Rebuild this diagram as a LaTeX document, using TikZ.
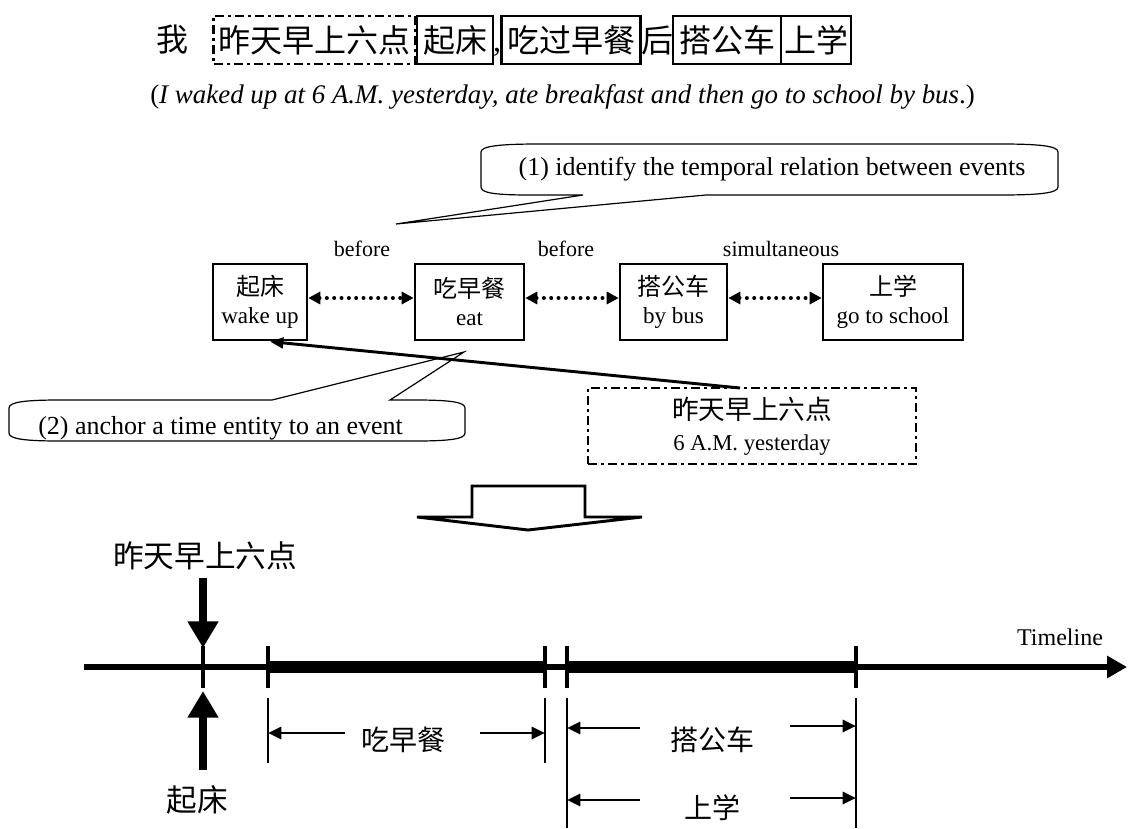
\documentclass[tikz,border=0pt]{standalone}
\usepackage{fontspec}
\setmainfont{Liberation Serif}
\newfontfamily\cjk{Noto Sans CJK SC}
\usetikzlibrary{arrows.meta,calc}
\begin{document}
\begin{tikzpicture}[x=0.75pt,y=-0.75pt,
  topcjk/.style={font=\cjk\fontsize{24}{28}\selectfont, inner sep=0pt},
  topbox/.style={topcjk, draw, line width=2.2pt, minimum height=36pt},
  dashdot/.style={dash pattern=on 7pt off 3pt on 2pt off 3pt},
  evbox/.style={draw, line width=0.9pt, minimum height=57pt, align=center, inner sep=0pt,
     font=\fontsize{17.3}{21}\selectfont},
  rel/.style={font=\fontsize{16.5}{19}\selectfont, inner sep=0pt},
  dotarrow/.style={line width=3pt, dash pattern=on 0pt off 5.5pt, line cap=round,
     {Triangle[length=9pt,width=9pt]}-{Triangle[length=9pt,width=9pt]}, shorten <=0.5pt, shorten >=0.5pt},
  solidarrow/.style={line width=2.2pt, -{Triangle[length=10pt,width=8pt]}},
  callout/.style={line width=0.9pt},
  callouttext/.style={font=\fontsize{19.5}{24}\selectfont, inner sep=0pt},
  tick/.style={line width=3pt},
  thinv/.style={line width=0.9pt},
  dimarrow/.style={line width=2.2pt, -{Triangle[length=10pt,width=9pt]}},
  fatarrow/.style={line width=6.5pt, -{Triangle[length=20pt,width=22pt]}},
  bigcjk/.style={font=\cjk\fontsize{23}{27}\selectfont, inner sep=0pt},
  midcjk/.style={font=\cjk\fontsize{21}{25}\selectfont, inner sep=0pt}
]
\useasboundingbox (0,0) rectangle (1130,828);

% ---- top sentence
\node[topcjk] (wo) at (172,40) {我};
\node[topbox, dashdot, minimum width=151.1pt] (s1) at (314.25,40) {昨天早上六点};
\node[topbox, minimum width=57pt] (s2) at (455,40) {起床};
\node[font=\fontsize{24}{28}\selectfont, inner sep=0pt] (cm) at (497,52) {,};
\node[topbox, minimum width=104pt] (s3) at (571,40) {吃过早餐};
\node[topcjk] (hou) at (657,40) {后};
\node[topbox, minimum width=81pt] (s4) at (727,40) {搭公车};
\node[topbox, minimum width=52.5pt] (s5) at (816,40) {上学};

\node[font=\fontsize{20.2}{24}\selectfont, anchor=west, inner sep=0pt] (eng) at (150,97)
  {(\textit{I waked up at 6 A.M. yesterday, ate breakfast and then go to school by bus}.)};

% ---- callout 1
\draw[callout] (481,152) .. controls (481,146) and (500,144) .. (540,144) -- (1000,144)
  .. controls (1040,144) and (1058,146) .. (1058,152) -- (1058,187)
  .. controls (1058,193) and (1040,195) .. (1000,195) -- (706,195) -- (396,224) -- (583,195)
  -- (530,195) .. controls (495,195) and (481,193) .. (481,187) -- cycle;
\node[callouttext] (c1) at (772,169)
  {(1) identify the temporal relation between events};

% ---- event boxes
\node[evbox, minimum width=70.5pt] (e1) at (260,302) {{\cjk\fontsize{18}{21}\selectfont 起床}\\wake up};
\node[evbox, minimum width=81.75pt] (e2) at (469.5,302) {{\cjk\fontsize{18}{21}\selectfont 吃早餐}\\eat};
\node[evbox, minimum width=80.25pt] (e3) at (673.5,302) {{\cjk\fontsize{18}{21}\selectfont 搭公车}\\by bus};
\node[evbox, minimum width=105pt] (e4) at (893,302) {{\cjk\fontsize{18}{21}\selectfont 上学}\\go to school};

\node[rel] (r1) at (362,249) {before};
\node[rel] (r2) at (566,249) {before};
\node[rel] (r3) at (781,249) {simultaneous};

\draw[dotarrow] ([yshift=3pt]e1.east) -- ([yshift=3pt]e2.west);
\draw[dotarrow] ([yshift=3pt]e2.east) -- ([yshift=3pt]e3.west);
\draw[dotarrow] ([yshift=3pt]e3.east) -- ([yshift=3pt]e4.west);

% ---- time entity box
\node[draw, line width=1.5pt, dashdot, minimum width=246pt, minimum height=57pt,
  align=center, inner sep=0pt, font=\fontsize{17}{23}\selectfont] (tb) at (752,426)
  {{\cjk\fontsize{20}{23}\selectfont 昨天早上六点}\\6 A.M. yesterday};
\coordinate (a0) at (740,388);
\draw[solidarrow] (a0) -- ($(e1.south)+(10,1)$);

% ---- callout 2
\draw[callout] (9,408) .. controls (9,402) and (25,400) .. (60,400) -- (272,400) -- (464,352)
  -- (390,400) -- (415,400) .. controls (450,400) and (465,402) .. (465,408) -- (465,433)
  .. controls (465,439) and (450,441) .. (415,441) -- (60,441)
  .. controls (25,441) and (9,439) .. (9,433) -- cycle;
\node[callouttext, anchor=base west] (c2) at (38,434)
  {(2) anchor a time entity to an event};

% ---- hollow down arrow
\draw[line width=2.2pt, line join=miter] (417,517) -- (472,517) -- (472,486) -- (585,486)
  -- (585,517) -- (642,517) -- (528,530) -- cycle;

% ---- timeline
\coordinate (tl0) at (84,667);
\coordinate (tl1) at (1127,667);
\draw[line width=5pt, -{Triangle[length=15pt,width=16pt]}] (tl0) -- (tl1);
\node[font=\fontsize{18}{22}\selectfont, inner sep=0pt] (tll) at (1060,637) {Timeline};

\coordinate (p0) at (203,667);
\coordinate (p1) at (268,667);
\coordinate (p2) at (545,667);
\coordinate (p3) at (567,667);
\coordinate (p4) at (856,667);
\draw[line width=8.5pt] (p1) -- (p2);
\draw[line width=8.5pt] (p3) -- (p4);
\foreach \p in {p0,p1,p2,p3,p4}
  \draw[tick] ($(\p)+(0,-21)$) -- ($(\p)+(0,21)$);

\node[bigcjk] (yl) at (205,556) {昨天早上六点};
\node[bigcjk] (ql) at (197,800) {起床};
\draw[fatarrow] ($(p0)+(0,-89)$) -- ($(p0)+(0,-19)$);
\draw[fatarrow] ($(p0)+(0,103)$) -- ($(p0)+(0,24)$);

% interval markers
\draw[thinv] ($(p1)+(0,31)$) -- ($(p1)+(0,96)$);
\draw[thinv] ($(p2)+(0,31)$) -- ($(p2)+(0,96)$);
\draw[thinv] ($(p3)+(0,31)$) -- ($(p3)+(0,161)$);
\draw[thinv] ($(p4)+(0,31)$) -- ($(p4)+(0,161)$);

\node[midcjk] (lb1) at (403,740) {吃早餐};
\node[midcjk] (lb2) at (712,740) {搭公车};
\node[midcjk] (lb3) at (712,808) {上学};

\coordinate (m1l) at (345,733); \coordinate (m1r) at (480,733);
\coordinate (m2l) at (640,728); \coordinate (m2r) at (790,726);
\coordinate (m3l) at (640,800); \coordinate (m3r) at (790,798);
\draw[dimarrow] (m1l) -- (m1l -| p1);
\draw[dimarrow] (m1r) -- (m1r -| p2);
\draw[dimarrow] (m2l) -- (m2l -| p3);
\draw[dimarrow] (m2r) -- (m2r -| p4);
\draw[dimarrow] (m3l) -- (m3l -| p3);
\draw[dimarrow] (m3r) -- (m3r -| p4);
\end{tikzpicture}
\end{document}
